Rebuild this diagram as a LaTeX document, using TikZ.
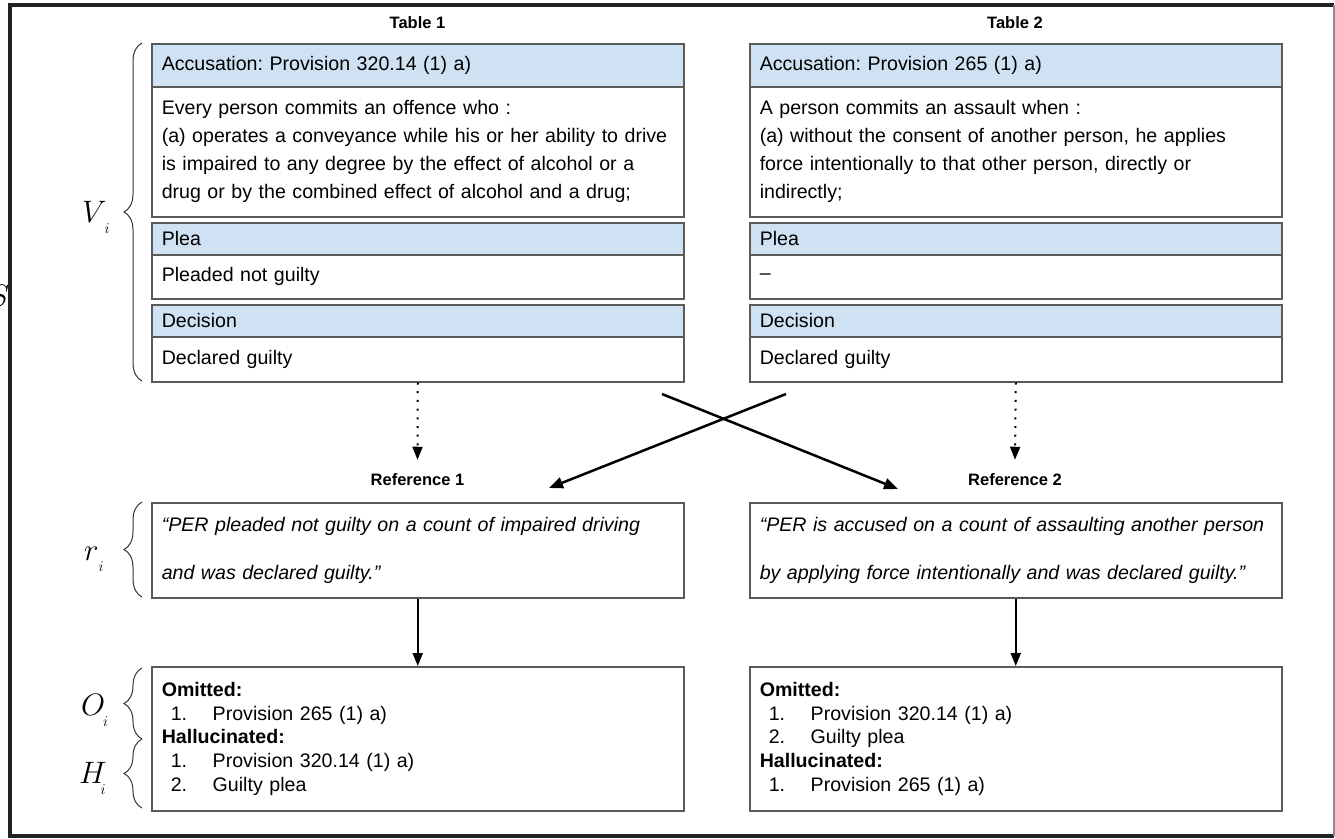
\RequirePackage{fix-cm}
\documentclass[tikz,border=0pt]{standalone}
\usepackage{fontspec}
\setmainfont{Liberation Sans}
\usetikzlibrary{arrows.meta,decorations.pathreplacing}
\definecolor{hdrblue}{HTML}{CFE2F3}
\definecolor{boxline}{HTML}{5A5A5A}
\definecolor{framec}{HTML}{222222}
\frenchspacing
\newcommand{\sublbl}[2]{{\fontsize{31}{31}\selectfont$#1$}\kern#2\raisebox{-11pt}{\fontsize{15}{15}\selectfont$i$}}
\newcommand{\itm}[2]{\hspace*{9pt}\makebox[42pt][l]{#1}#2}
\newcommand{\oneline}[1]{\mbox{#1}}
\begin{document}
\begin{tikzpicture}[x=1pt,y=-1pt,
  cell/.style={draw=boxline, line width=1.5pt, anchor=north west, text width=512pt,
    inner xsep=10pt, inner ysep=0pt, align=left, font=\fontsize{19.6}{28}\selectfont},
  hdr/.style={cell, fill=hdrblue},
  refcell/.style={cell, font=\fontsize{19.6}{48}\selectfont\itshape},
  rescell/.style={cell, font=\fontsize{19.6}{23.7}\selectfont},
  ttl/.style={font=\fontsize{16.5}{18}\selectfont\bfseries, inner sep=0pt},
  rlbl/.style={font=\fontsize{16.5}{18}\selectfont\bfseries, inner xsep=0pt, inner ysep=14pt},
  lbl/.style={anchor=base west, inner sep=0pt},
  brc/.style={decorate, decoration={brace, amplitude=18pt}, line width=1pt, draw=black!80},
  dotarrow/.style={line width=2pt, dash pattern=on 2pt off 6.7pt, -{Triangle[length=13pt,width=10pt]}},
  solarrow/.style={line width=2pt, -{Triangle[length=13pt,width=10pt]}},
  crossarrow/.style={line width=2.5pt, -{Triangle[length=14pt,width=11pt]}}
]
\useasboundingbox (0,0) rectangle (1335,838);
% partly hidden letter at the left edge
\begin{scope}
\clip (0,270) rectangle (8,320);
\node[inner sep=0pt, font=\fontsize{31}{31}\selectfont] (sx) at (-1,296) {$S$};
\end{scope}
% frame
\draw[line width=4pt, framec] (1334,5) -- (9.5,5) -- (9.5,836) -- (1334,836);
\draw[line width=1.5pt, black!45] (1334,5) -- (1334,836);

% titles
\node[ttl] (t1) at (417.5,23) {Table 1};
\node[ttl] (t2) at (1015,23) {Table 2};

% table 1
\node[hdr, minimum height=43pt] (a1) at (151,43) {Accusation: Provision 320.14 (1) a)};
\node[cell, minimum height=130pt] (b1) at (151,86) {\oneline{Every person commits an offence who :}\\\oneline{(a) operates a conveyance while his or her ability to drive}\\\oneline{is impaired to any degree by the effect of alcohol or a}\\\oneline{drug or by the combined effect of alcohol and a drug;}};
\node[hdr, minimum height=32pt] (p1) at (151,222) {Plea};
\node[cell, minimum height=44pt] (q1) at (151,254) {Pleaded not guilty};
\node[hdr, minimum height=32pt] (d1) at (151,304) {Decision};
\node[cell, minimum height=45pt] (e1) at (151,336) {Declared guilty};

% table 2
\node[hdr, minimum height=43pt] (a2) at (749,43) {Accusation: Provision 265 (1) a)};
\node[cell, minimum height=130pt] (b2) at (749,86) {\oneline{A person commits an assault when :}\\\oneline{(a) without the consent of another person, he applies}\\\oneline{force intentionally to that other person, directly or}\\\oneline{indirectly;}};
\node[hdr, minimum height=32pt] (p2) at (749,222) {Plea};
\node[cell, minimum height=44pt] (q2) at (749,254) {--};
\node[hdr, minimum height=32pt] (d2) at (749,304) {Decision};
\node[cell, minimum height=45pt] (e2) at (749,336) {Declared guilty};

% reference labels
\node[rlbl] (rl1) at (417.5,480) {Reference 1};
\node[rlbl] (rl2) at (1015,480) {Reference 2};

% reference boxes
\node[refcell, minimum height=95pt] (r1) at (151,502) {\oneline{“PER pleaded not guilty on a count of impaired driving}\\\oneline{and was declared guilty.”}};
\node[refcell, minimum height=95pt] (r2) at (749,502) {\oneline{“PER is accused on a count of assaulting another person}\\\oneline{by applying force intentionally and was declared guilty.”}};

% result boxes
\node[rescell, minimum height=144pt] (o1) at (151,666) {\textbf{Omitted:}\\\itm{1.}{Provision 265 (1) a)}\\\textbf{Hallucinated:}\\\itm{1.}{Provision 320.14 (1) a)}\\\itm{2.}{Guilty plea}};
\node[rescell, minimum height=144pt] (o2) at (749,666) {\textbf{Omitted:}\\\itm{1.}{Provision 320.14 (1) a)}\\\itm{2.}{Guilty plea}\\\textbf{Hallucinated:}\\\itm{1.}{Provision 265 (1) a)}};

% arrows
\draw[dotarrow] (e1.south) -- (rl1.north);
\draw[dotarrow] (e2.south) -- (rl2.north);
\coordinate (c1s) at (662,394);
\coordinate (c1e) at (898,489);
\coordinate (c2s) at (786,394);
\coordinate (c2e) at (549,488);
\draw[crossarrow] (c1s) -- (c1e);
\draw[crossarrow] (c2s) -- (c2e);
\draw[solarrow] (r1.south) -- (o1.north);
\draw[solarrow] (r2.south) -- (o2.north);

% braces
\draw[brc] (142,381) -- (142,43);
\draw[brc] (142,597) -- (142,502);
\draw[brc] (142,739) -- (142,668);
\draw[brc] (142,808) -- (142,739);

% labels
\node[lbl] (lv) at (82,222) {\sublbl{V}{-2pt}};
\node[lbl] (lr) at (84,560) {\sublbl{r}{0pt}};
\node[lbl] (lo) at (81,715) {\sublbl{O}{-2pt}};
\node[lbl] (lh) at (79,783) {\sublbl{H}{-6pt}};
\end{tikzpicture}
\end{document}
